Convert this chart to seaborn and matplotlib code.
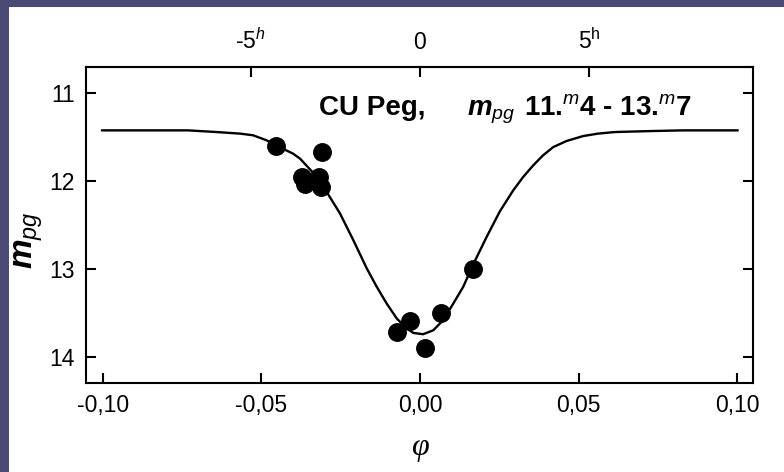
import matplotlib
matplotlib.use('Agg')
import numpy as np
import pandas as pd
import seaborn as sns
import matplotlib.pyplot as plt
from matplotlib.patches import Rectangle

# ---- data ----
phase_obs = [-0.0454, -0.0308, -0.0373, -0.0362, -0.0317, -0.0312,
             0.0166, 0.0066, -0.0032, -0.0072, 0.0016]
mag_obs = [11.60, 11.67, 11.95, 12.03, 11.95, 12.07,
           13.00, 13.50, 13.59, 13.72, 13.90]

curve_phase = [-0.1003, -0.0731, -0.0641, -0.0567, -0.0526, -0.0483, -0.0451,
               -0.0400, -0.0378, -0.0341, -0.0294, -0.0252, -0.0210, -0.0168,
               -0.0136, -0.0105, -0.0073, -0.0042, -0.0021, 0.0010, 0.0042,
               0.0073, 0.0105, 0.0136, 0.0168, 0.0210, 0.0252, 0.0294,
               0.0325, 0.0357, 0.0388, 0.0420, 0.0462, 0.0514, 0.0561,
               0.0614, 0.0725, 0.0829, 0.1002]
curve_mag = [11.424, 11.424, 11.443, 11.461, 11.480, 11.538, 11.600,
             11.689, 11.746, 11.890, 12.125, 12.370, 12.674, 12.992,
             13.205, 13.393, 13.564, 13.677, 13.727, 13.742, 13.697,
             13.583, 13.393, 13.205, 12.947, 12.636, 12.344, 12.106,
             11.955, 11.822, 11.708, 11.614, 11.545, 11.489, 11.461,
             11.443, 11.432, 11.424, 11.424]

x_ticks = [-0.10, -0.05, 0.00, 0.05, 0.10]
x_tick_labels = ['-0,10', '-0,05', '0,00', '0,05', '0,10']
y_ticks = [11, 12, 13, 14]
y_tick_labels = ['11', '12', '13', '14']
hour_ticks = [-0.0534, 0.0, 0.0534]
hour_tick_labels = [r'-5$^{h}$', '0', r'5$^{\mathrm{h}}$']

# ---- style ----
sns.set_theme(style='ticks')
plt.rcParams['font.family'] = ['Liberation Sans', 'DejaVu Sans']
plt.rcParams['mathtext.fontset'] = 'custom'
plt.rcParams['mathtext.rm'] = 'Liberation Sans'
plt.rcParams['mathtext.it'] = 'Liberation Sans:italic'
plt.rcParams['mathtext.bf'] = 'Liberation Sans:bold'
plt.rcParams['mathtext.bfit'] = 'Liberation Sans:italic:bold'

fig = plt.figure(figsize=(7.84, 4.72), dpi=100, facecolor='#4a4a74')
fig.add_artist(Rectangle((9 / 784, 0), 1, (472 - 7) / 472,
                         transform=fig.transFigure, facecolor='white',
                         edgecolor='none', zorder=-1))

ax = fig.add_axes([86 / 784, (472 - 383.3) / 472,
                   (752.7 - 86) / 784, (383.3 - 66.7) / 472])
ax.set_facecolor('white')

df_curve = pd.DataFrame({'phase': curve_phase, 'mag': curve_mag})
df_obs = pd.DataFrame({'phase': phase_obs, 'mag': mag_obs})

sns.lineplot(data=df_curve, x='phase', y='mag', ax=ax, color='black',
             linewidth=1.7, sort=False, estimator=None)
sns.scatterplot(data=df_obs, x='phase', y='mag', ax=ax, color='black',
                s=185, linewidth=0, zorder=3)

ax.set_xlim(-0.1053, 0.1049)
ax.set_ylim(14.30, 10.70)
ax.set_xticks(x_ticks, x_tick_labels)
ax.set_yticks(y_ticks, y_tick_labels)
ax.set_xlabel('')
ax.set_ylabel('')
ax.tick_params(direction='in', length=7, width=1.5, labelsize=16.5, pad=8,
               colors='black', labelcolor='black')
ax.tick_params(axis='y', right=True, labelright=False)
for sp in ax.spines.values():
    sp.set_visible(True)
    sp.set_linewidth(1.5)
    sp.set_color('black')

secax = ax.secondary_xaxis('top')
secax.set_xticks(hour_ticks, hour_tick_labels)
secax.tick_params(direction='in', length=7, width=1.5, labelsize=16.5, pad=9,
                  colors='black', labelcolor='black')
secax.spines['top'].set_linewidth(1.5)

# annotation inside the axes
ax.text(0.3495, 0.847, 'CU Peg,', transform=ax.transAxes, fontsize=20,
        fontweight='bold', ha='left', va='baseline', color='black')
ax.text(0.5715, 0.847, r'$\mathbfit{m}_{pg}$', transform=ax.transAxes,
        fontsize=20, ha='left', va='baseline', color='black')
ax.text(0.6576, 0.847, r'11.$^{m}$4 - 13.$^{m}$7', transform=ax.transAxes,
        fontsize=20, fontweight='bold', ha='left', va='baseline',
        color='black')

# axis labels
fig.text(29 / 784, 1 - 240 / 472, r'$\mathbfit{m}_{pg}$', rotation=90,
         fontsize=24, ha='center', va='center', color='black')
fig.text(420 / 784, 1 - 447 / 472, 'φ', fontsize=23, style='italic',
         family=['Liberation Serif', 'DejaVu Serif'],
         ha='center', va='center', color='black')

fig.savefig('out.png', dpi=100, facecolor=fig.get_facecolor())
